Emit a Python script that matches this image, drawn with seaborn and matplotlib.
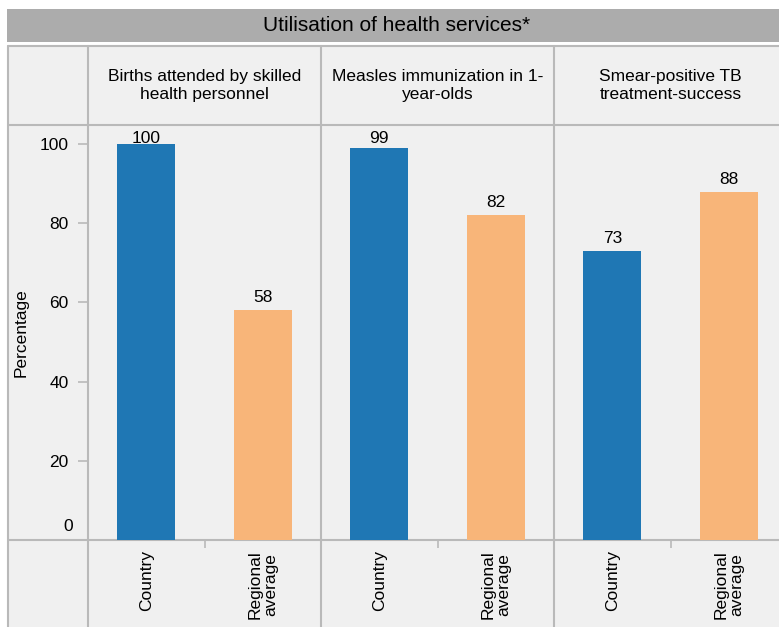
import matplotlib
matplotlib.use("Agg")
import matplotlib.pyplot as plt
import seaborn as sns
import pandas as pd
from matplotlib.lines import Line2D
from matplotlib.patches import Rectangle

# ---- data ----
title = "Utilisation of health services*"
indicators = ["Births attended by skilled\nhealth personnel",
              "Measles immunization in 1-\nyear-olds",
              "Smear-positive TB\ntreatment-success"]
groups = ["Country", "Regional\naverage"]
country_values = [100, 99, 73]
regional_values = [58, 82, 88]
yticks = [0, 20, 40, 60, 80, 100]
ylabel = "Percentage"

colors = ["#1f77b4", "#f8b579"]
grid_color = "#b9b9b9"
bg = "#f0f0f0"

sns.set_theme(style="white")
plt.rcParams["font.family"] = ["Liberation Sans", "DejaVu Sans"]
plt.rcParams["text.color"] = "black"
plt.rcParams["axes.labelcolor"] = "black"
plt.rcParams["xtick.labelcolor"] = "black"
plt.rcParams["ytick.labelcolor"] = "black"

W, H = 779, 627
fig = plt.figure(figsize=(W / 100, H / 100), dpi=100)


def fx(px):
    return px / W


def fy(py):
    return 1 - py / H


# background of the table and title bar
fig.patches.append(Rectangle((fx(8), 0), 1, fy(46), transform=fig.transFigure,
                             facecolor=bg, edgecolor="none", zorder=-2))
fig.patches.append(Rectangle((fx(7), fy(42)), 1, 33 / H, transform=fig.transFigure,
                             facecolor="#acacac", edgecolor="none", zorder=-2))
fig.text(fx(397), fy(25.5), title, ha="center", va="center", fontsize=15,
         color="black")

panel_w = 233
ymax = (540 - 125) / 3.96
axes = []
for i, ind in enumerate(indicators):
    ax = fig.add_axes([fx(88 + panel_w * i), fy(540), panel_w / W, 415 / H])
    ax.set_facecolor("none")
    ax.set_zorder(1)
    df = pd.DataFrame({"group": groups,
                       "value": [country_values[i], regional_values[i]]})
    sns.barplot(data=df, x="group", y="value", hue="group", order=groups,
                hue_order=groups, palette=colors, width=0.5, saturation=1,
                dodge=False, legend=False, linewidth=0, edgecolor="none", ax=ax)
    ax.set_xlim(-0.5, 1.5)
    ax.set_ylim(0, ymax)
    for sp in ax.spines.values():
        sp.set_visible(False)
    ax.set_xlabel("")
    ax.set_ylabel("")
    # value labels
    for j, v in enumerate(df["value"]):
        ax.text(j, min(v + 2.0, 100.3), f"{v:g}", ha="center", va="baseline",
                fontsize=12.5, color="black")
    # x tick labels in the bottom row
    ax.set_xticks(range(len(groups)))
    ax.set_xticklabels(groups, rotation=90, va="top", ha="center",
                       multialignment="center", fontsize=12.5,
                       linespacing=1.1)
    ax.set_xticks([0.5], minor=True)
    ax.tick_params(axis="x", which="major", length=0, pad=7.5)
    ax.tick_params(axis="x", which="minor", bottom=True, length=6,
                   width=1.2, color=grid_color, direction="out")
    # header text
    ax.text(0.5, (540 - 85.5) / 415, ind, transform=ax.transAxes,
            ha="center", va="center", fontsize=12.5, linespacing=1.3,
            color="black")
    if i == 0:
        ax.set_yticks(yticks)
        ax.set_yticklabels([""] + [str(t) for t in yticks[1:]], fontsize=12.5)
        ax.tick_params(axis="y", left=True, length=7, width=1.2,
                       color=grid_color, pad=7, direction="out")
        ax.annotate(str(yticks[0]), xy=(0, 0), xycoords=("axes fraction", "data"),
                    xytext=(-15, 6), textcoords="offset pixels",
                    ha="right", va="bottom", fontsize=12.5, color="black")
        ax.set_ylabel(ylabel, fontsize=12.5)
        ax.yaxis.set_label_coords((29 - 88) / panel_w, 0.5)
    else:
        ax.set_yticks(yticks)
        ax.tick_params(axis="y", left=False, labelleft=False)
    axes.append(ax)

# table grid lines
lw = 1.5
for py in [46, 125, 540]:
    fig.add_artist(Line2D([fx(8), 1], [fy(py), fy(py)], transform=fig.transFigure,
                          color=grid_color, lw=lw, zorder=0))
for px in [8, 88, 321, 554]:
    fig.add_artist(Line2D([fx(px), fx(px)], [fy(46), 0], transform=fig.transFigure,
                          color=grid_color, lw=lw, zorder=0))

fig.savefig("out.png", dpi=100)
